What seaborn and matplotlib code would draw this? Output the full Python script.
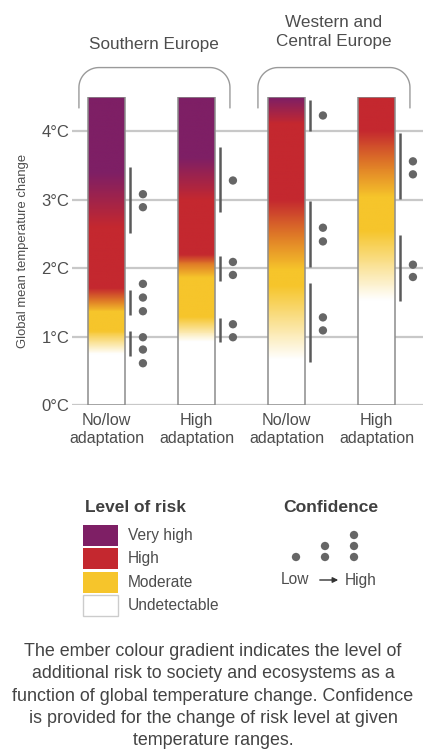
import numpy as np
import matplotlib
matplotlib.use("Agg")
import matplotlib.pyplot as plt
import seaborn as sns
from matplotlib.colors import LinearSegmentedColormap
from matplotlib.patches import Rectangle

# risk level colours
risk_colors = {
    "u": "#FFFFFF",   # undetectable
    "m": "#F6C52B",   # moderate
    "o": "#DF7A27",   # moderate -> high transition
    "h": "#C4282F",   # high
    "v": "#7E1F65",   # very high
}

bar_ids = ["S-low", "S-high", "W-low", "W-high"]
categories = ["No/low\nadaptation", "High\nadaptation", "No/low\nadaptation", "High\nadaptation"]
region_names = ["Southern Europe", "Western and\nCentral Europe"]
y_ticks = [0, 1, 2, 3, 4]
y_ticklabels = ["0°C", "1°C", "2°C", "3°C", "4°C"]
bar_top = 4.5

# ember transitions: (°C, level) for each bar
ember_s_low = [(0.0, "u"), (0.74, "u"), (1.08, "m"), (1.36, "m"), (1.52, "o"), (1.70, "h"),
               (2.60, "h"), (3.40, "v"), (4.5, "v")]
ember_s_high = [(0.0, "u"), (0.92, "u"), (1.28, "m"), (1.86, "m"), (2.06, "o"), (2.20, "h"),
                (3.00, "h"), (3.62, "v"), (4.5, "v")]
ember_w_low = [(0.0, "u"), (0.66, "u"), (1.74, "m"), (1.97, "m"), (2.48, "o"), (3.00, "h"),
               (4.12, "h"), (4.5, "v")]
ember_w_high = [(0.0, "u"), (1.53, "u"), (2.55, "m"), (3.04, "m"), (3.53, "o"), (4.02, "h"),
                (4.5, "h")]
embers = [ember_s_low, ember_s_high, ember_w_low, ember_w_high]

# confidence ranges (bar index, low °C, high °C)
conf_bar = [0, 0, 0, 1, 1, 1, 2, 2, 2, 3, 3]
conf_lo = [2.52, 1.31, 0.72, 2.82, 1.81, 0.92, 4.00, 2.02, 0.63, 3.01, 1.52]
conf_hi = [3.47, 1.68, 1.08, 3.77, 2.18, 1.27, 4.46, 2.98, 1.78, 3.97, 2.48]

# confidence dots (bar index, °C)
dot_bar = [0, 0, 0, 0, 0, 0, 0, 0, 1, 1, 1, 1, 1, 2, 2, 2, 2, 2, 3, 3, 3, 3]
dot_temp = [3.08, 2.89, 1.77, 1.57, 1.37, 0.99, 0.81, 0.61, 3.28, 2.09, 1.90, 1.18, 0.99,
            4.23, 2.59, 2.39, 1.28, 1.09, 3.56, 3.37, 2.05, 1.87]

legend_levels = ["Very high", "High", "Moderate", "Undetectable"]
legend_keys = ["v", "h", "m", "u"]

caption_lines = ["The ember colour gradient indicates the level of",
                 "additional risk to society and ecosystems as a",
                 "function of global temperature change. Confidence",
                 "is provided for the change of risk level at given",
                 "temperature ranges."]

sns.set_theme(style="white")
plt.rcParams["font.family"] = ["Liberation Sans", "DejaVu Sans"]
TXT = "#4d4d4d"
GREY = "#666666"

W, H = 423, 754
fig = plt.figure(figsize=(W / 100, H / 100), dpi=100)
ax = fig.add_axes([72 / W, 1 - 405 / H, (W - 72) / W, (405 - 97) / H])

bar_w = 0.41
sns.barplot(x=bar_ids, y=[bar_top] * 4, color="white", width=bar_w,
            linewidth=0, saturation=1, ax=ax, zorder=2)

# ember gradients
vals = np.linspace(0, bar_top, 500)[:, None]
for i, stops in enumerate(embers):
    cmap = LinearSegmentedColormap.from_list(
        f"ember{i}", [(t / bar_top, risk_colors[k]) for t, k in stops])
    ax.imshow(vals, extent=[i - bar_w / 2, i + bar_w / 2, 0, bar_top], origin="lower",
              aspect="auto", cmap=cmap, vmin=0, vmax=bar_top, zorder=3)
    ax.add_patch(Rectangle((i - bar_w / 2, 0), bar_w, bar_top, fill=False,
                           edgecolor="#8c8c8c", linewidth=1.1, zorder=4))

# confidence
ax.vlines(np.array(conf_bar) + 0.26, conf_lo, conf_hi, color="#5a5a5a", linewidth=1.8, zorder=4)
sns.scatterplot(x=np.array(dot_bar) + 0.405, y=dot_temp, s=36, color=GREY,
                edgecolor="none", ax=ax, zorder=5, clip_on=False)

ax.set_xlim(-0.383, 3.517)
ax.set_ylim(0, bar_top)
ax.set_xticks(range(len(categories)))
ax.set_xticklabels(categories)
ax.set_yticks(y_ticks)
ax.set_yticklabels(y_ticklabels)
for y in y_ticks:
    ax.axhline(y, color="#c8c8c8", linewidth=1.6, zorder=1)
ax.tick_params(axis="both", length=0, colors=TXT)
ax.tick_params(axis="y", pad=2, labelsize=12)
ax.tick_params(axis="x", pad=6, labelsize=11.6)
for lab in ax.get_xticklabels():
    lab.set_linespacing(1.2)
ax.set_ylabel("Global mean temperature change", fontsize=9.4, color=TXT, labelpad=9)
for s in ax.spines.values():
    s.set_visible(False)

# region brackets
rx, ry = 20 / 90, 20 / 68.5
th = np.linspace(0, np.pi / 2, 20)
for x0, x1 in [(-0.306, 1.372), (1.683, 3.372)]:
    ytop, ybot = 4.93, 4.34
    xs = np.concatenate([[x0], x0 + rx - rx * np.cos(th), x1 - rx + rx * np.sin(th), [x1]])
    ys = np.concatenate([[ybot], ytop - ry + ry * np.sin(th), ytop - ry + ry * np.cos(th), [ybot]])
    ax.plot(xs, ys, color="#9a9a9a", linewidth=1.0, clip_on=False, zorder=1)

fig.text(154 / W, 1 - 44 / H, region_names[0], ha="center", va="center", fontsize=12.3, color=TXT)
fig.text(334 / W, 1 - 32 / H, region_names[1], ha="center", va="center", fontsize=12.3,
         color=TXT, linespacing=1.3)

# legend: level of risk
fig.text(85 / W, 1 - 507 / H, "Level of risk", ha="left", va="center", fontsize=12.4,
         fontweight="bold", color="#404040")
for j, (name, key) in enumerate(zip(legend_levels, legend_keys)):
    ytop = 525 + j * 23.3
    fig.patches.append(Rectangle((83 / W, 1 - (ytop + 21) / H), 35 / W, 21 / H,
                                 transform=fig.transFigure, facecolor=risk_colors[key],
                                 edgecolor="#cccccc" if key == "u" else "none", linewidth=1))
    fig.text(128 / W, 1 - (ytop + 10.5) / H, name, ha="left", va="center", fontsize=11.2, color=TXT)

# legend: confidence
fig.text(331 / W, 1 - 507 / H, "Confidence", ha="center", va="center", fontsize=12.6,
         fontweight="bold", color="#404040")
lax = fig.add_axes([0, 0, 1, 1], facecolor="none")
lax.set_xlim(0, W)
lax.set_ylim(H, 0)
lax.axis("off")
conf_x = [296, 325, 325, 354, 354, 354]
conf_y = [557, 557, 546, 557, 546, 535]
sns.scatterplot(x=conf_x, y=conf_y, s=36, color=GREY, edgecolor="none", ax=lax)
fig.text(295 / W, 1 - 580 / H, "Low", ha="center", va="center", fontsize=11.2, color=TXT)
fig.text(361 / W, 1 - 580 / H, "High", ha="center", va="center", fontsize=11.2, color=TXT)
lax.annotate("", xy=(341, 580), xytext=(317, 580),
             arrowprops=dict(arrowstyle="-|>", color="#333333", lw=1, mutation_scale=8))

# caption, one line at a time
for k, line in enumerate(caption_lines):
    fig.text(213 / W, 1 - (656 + 22.3 * k) / H, line, ha="center", va="baseline",
             fontsize=12.9, color="#444444")

fig.savefig("out.png", dpi=100)
